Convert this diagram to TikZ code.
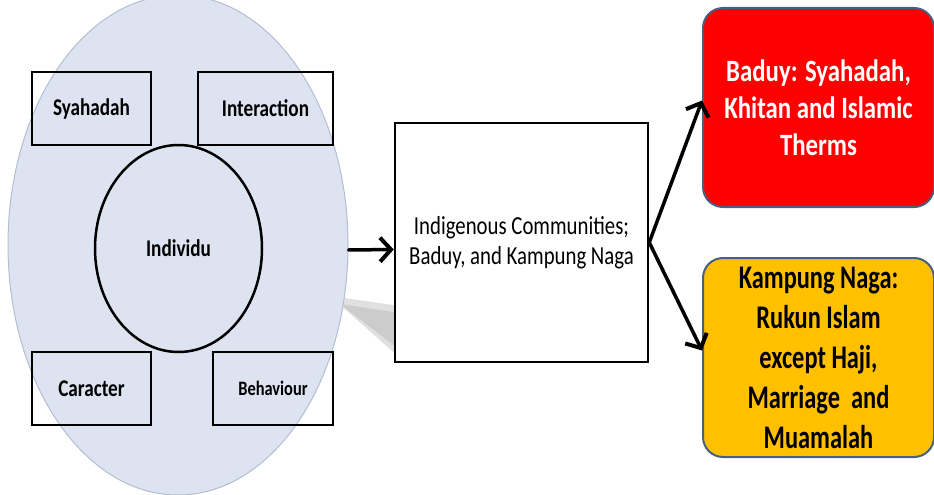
\documentclass[tikz,border=0pt]{standalone}
\usepackage{fontspec}
\setmainfont{Carlito}
\newfontfamily\tallfont[FakeStretch=0.8]{Carlito}
\newfontfamily\nagafont[FakeStretch=0.74]{Carlito}
\usepackage{xcolor}
\usetikzlibrary{positioning}
\usetikzlibrary{shapes.geometric}
\usetikzlibrary{arrows.meta}

\definecolor{haze}{RGB}{221,227,241}
\definecolor{rimgray}{RGB}{180,190,210}
\definecolor{edgeblue}{RGB}{70,96,125}
\definecolor{amber}{RGB}{255,192,0}

\begin{document}
\begin{tikzpicture}[x=1pt,y=-1pt]
          \useasboundingbox (0,0) rectangle (934,495);
          \fill[black!12] (330,296) -- (400,306) -- (400,358) -- cycle;
          \fill[black!20] (340,304) -- (400,313) -- (400,350) -- cycle;
          \node[ellipse,draw=rimgray,fill=haze,line width=1pt,minimum width=340pt,minimum height=500pt] (outer) at (178,245) {};
          \begin{scope}[every node/.style={rectangle,draw,line width=2.5pt,inner sep=0pt,font=\tallfont\bfseries\fontsize{24}{28}\selectfont}]
            \node[minimum width=119pt,minimum height=73pt] (syah) at (91.5,108.5) {Syahadah};
            \node[minimum width=135pt,minimum height=73pt] (inter) at (265.5,108.5) {Interaction};
            \node[minimum width=119pt,minimum height=73pt] (carac) at (91.5,388.5) {Caracter};
            \node[minimum width=120pt,minimum height=73pt,font=\tallfont\bfseries\fontsize{20.5}{24}\selectfont] (behav) at (273,388.5) {Behaviour};
            \node[ellipse,minimum width=167pt,minimum height=207pt] (indiv) at (178.5,248.5) {Individu};
            \node[fill=white,minimum width=253pt,minimum height=239pt,align=center,font=\tallfont\fontsize{26}{30}\selectfont] (comm) at (521.5,242.5) {Indigenous Communities;\\Baduy, and Kampung Naga};
          \end{scope}
          \begin{scope}[every node/.style={rectangle,rounded corners=20pt,draw=edgeblue,line width=2pt,align=center}]
            \node[fill=red,text=white,minimum width=231pt,minimum height=199pt,font=\tallfont\bfseries\fontsize{31}{37}\selectfont] (baduy) at (818.5,107.5) {Baduy: Syahadah,\\Khitan and Islamic\\Therms};
            \node[fill=amber,minimum width=231pt,minimum height=199pt,font=\nagafont\bfseries\fontsize{33}{40}\selectfont] (naga) at (818.5,357.5) {Kampung Naga:\\Rukun Islam\\except Haji,\\Marriage~ and\\Muamalah};
          \end{scope}
          \begin{scope}[line width=3.5pt,line cap=round,line join=round,>={Straight Barb[length=11pt,width=24pt,line width=4pt]},every path/.style={->}]
            \draw ([yshift=-5pt]outer.east) -- ([yshift=-7pt]comm.west);
            \draw (comm.east) -- ([yshift=7pt]baduy.west);
            \draw (comm.east) -- ([yshift=7pt]naga.west);
          \end{scope}
        \end{tikzpicture}
\end{document}
